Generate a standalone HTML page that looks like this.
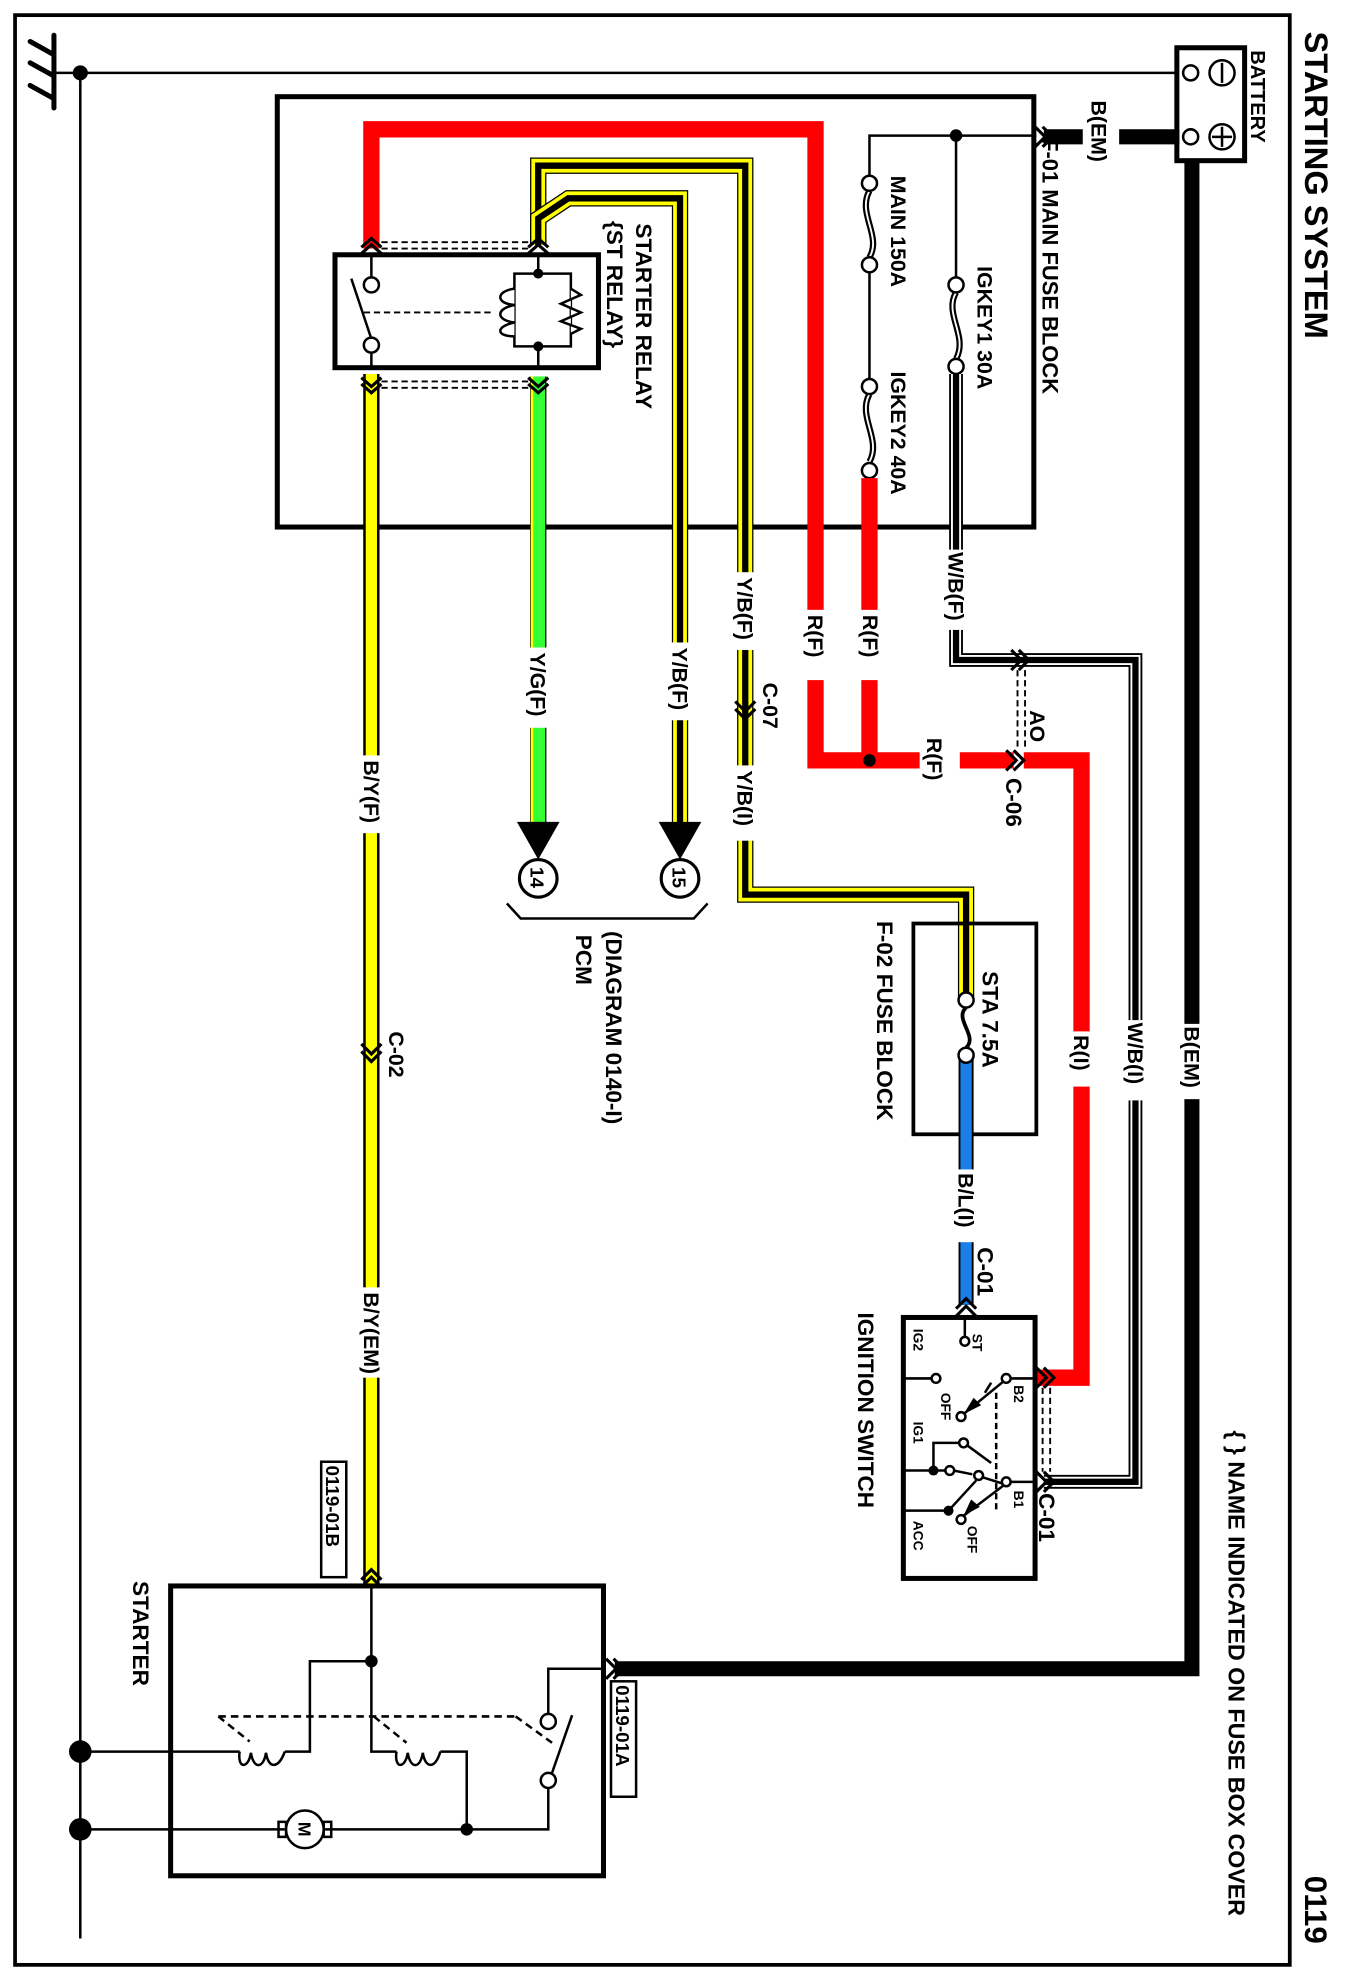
<!DOCTYPE html>
<html><head><meta charset="utf-8"><style>
html,body{margin:0;padding:0;background:#fff}
svg{display:block}
text{font-family:"Liberation Sans",Arial,sans-serif;fill:#000;font-weight:bold}
</style></head><body>
<svg width="1350" height="1980" viewBox="0 0 1076 1578" xmlns="http://www.w3.org/2000/svg">
<rect x="0" y="0" width="1076" height="1578" fill="#fff"/>
<rect x="12" y="12" width="1016" height="1554" fill="none" stroke="#000" stroke-width="3"/>
<line x1="43" y1="28" x2="43" y2="86" stroke="#000" stroke-width="4" stroke-linecap="round"/>
<path d="M24,33 L42,43 M24,50 L42,60 M24,68 L42,78" stroke="#000" stroke-width="4" stroke-linecap="round"/>
<line x1="43" y1="58" x2="940" y2="58" stroke="#000" stroke-width="2"/>
<circle cx="64" cy="58" r="6"/>
<line x1="64" y1="58" x2="64" y2="1545" stroke="#000" stroke-width="2"/>
<rect x="938" y="38" width="54" height="90" fill="#fff" stroke="#000" stroke-width="4"/>
<circle cx="949" cy="58" r="6" fill="#fff" stroke="#000" stroke-width="2"/>
<circle cx="949" cy="109" r="6" fill="#fff" stroke="#000" stroke-width="2"/>
<circle cx="974" cy="58" r="10" fill="#fff" stroke="#000" stroke-width="2"/>
<line x1="974" y1="50" x2="974" y2="66" stroke="#000" stroke-width="2"/>
<circle cx="974" cy="109" r="10" fill="#fff" stroke="#000" stroke-width="2"/>
<path d="M966,109 H982 M974,101 V117" stroke="#000" stroke-width="2"/>
<text transform="translate(997,40) rotate(90)" font-size="16">BATTERY</text>
<line x1="832" y1="109" x2="863" y2="109" stroke="#000" stroke-width="12"/>
<line x1="892" y1="109" x2="940" y2="109" stroke="#000" stroke-width="12"/>
<text transform="translate(870,80) rotate(90)" font-size="17">B(EM)</text>
<path d="M825,101 L833,109 L825,117 M831,101 L839,109 L831,117" fill="none" stroke="#000" stroke-width="2.5"/>
<path d="M950,128 V1330 H490" fill="none" stroke="#000" stroke-width="12"/>
<rect x="940" y="816" width="20" height="60" fill="#fff"/>
<text transform="translate(944,818) rotate(90)" font-size="17">B(EM)</text>
<path d="M483,1322 L491,1330 L483,1338 M489,1322 L497,1330 L489,1338" fill="none" stroke="#000" stroke-width="2.5"/>
<rect x="221" y="77" width="603" height="343" fill="none" stroke="#000" stroke-width="4"/>
<text transform="translate(831,110) rotate(90)" font-size="17.5">F-01  MAIN FUSE BLOCK</text>
<path d="M693,146 V108 H826" fill="none" stroke="#000" stroke-width="2"/>
<circle cx="762" cy="108" r="5"/>
<line x1="762" y1="108" x2="762" y2="227" stroke="#000" stroke-width="2"/>
<line x1="693" y1="211" x2="693" y2="308" stroke="#000" stroke-width="2"/>
<g fill="none" stroke="#000">
<path d="M693,152 C683,170 703,188 693,205" stroke-width="5"/><path d="M693,152 C683,170 703,188 693,205" stroke="#fff" stroke-width="1.5"/>
<path d="M693,314 C683,332 703,350 693,368" stroke-width="5"/><path d="M693,314 C683,332 703,350 693,368" stroke="#fff" stroke-width="1.5"/>
<path d="M762,233 C752,250 772,268 762,286" stroke-width="5"/><path d="M762,233 C752,250 772,268 762,286" stroke="#fff" stroke-width="1.5"/>
</g>
<g fill="#fff" stroke="#000" stroke-width="2">
<circle cx="693" cy="146" r="6"/><circle cx="693" cy="211" r="6"/>
<circle cx="693" cy="308" r="6"/><circle cx="693" cy="375" r="6"/>
<circle cx="762" cy="227" r="6"/><circle cx="762" cy="292" r="6"/>
</g>
<text transform="translate(710,140) rotate(90)" font-size="17">MAIN 150A</text>
<text transform="translate(779,212) rotate(90)" font-size="17">IGKEY1 30A</text>
<text transform="translate(710,296) rotate(90)" font-size="17">IGKEY2 40A</text>
<g fill="none">
<path d="M762,298 V526 H905 V1181 H832" stroke="#000" stroke-width="11"/>
<path d="M762,298 V526 H905 V1181 H832" stroke="#fff" stroke-width="8"/>
<path d="M762,298 V526 H905 V1181 H832" stroke="#000" stroke-width="5"/>
</g>
<rect x="752" y="438" width="20" height="64" fill="#fff"/>
<text transform="translate(756,440) rotate(90)" font-size="17">W/B(F)</text>
<rect x="895" y="813" width="20" height="64" fill="#fff"/>
<text transform="translate(899,815) rotate(90)" font-size="17">W/B(I)</text>
<g fill="none" stroke="#f00" stroke-width="13">
<path d="M296,198 V103 H650 V606 H808"/>
<path d="M693,381 V606"/>
<path d="M816,606 H862 V1098 H827"/>
</g>
<circle cx="693" cy="606" r="5"/>
<rect x="640" y="486" width="60" height="56" fill="#fff"/>
<text transform="translate(644,490) rotate(90)" font-size="17">R(F)</text>
<text transform="translate(688,490) rotate(90)" font-size="17">R(F)</text>
<rect x="733" y="586" width="32" height="40" fill="#fff"/>
<text transform="translate(739,588) rotate(90)" font-size="17">R(F)</text>
<rect x="852" y="822" width="20" height="44" fill="#fff"/>
<text transform="translate(856,825) rotate(90)" font-size="17">R(I)</text>
<path d="M806,518 L814,526 L806,534 M812,518 L820,526 L812,534" fill="none" stroke="#000" stroke-width="2.5"/>
<path d="M802,598 L810,606 L802,614 M808,598 L816,606 L808,614" fill="none" stroke="#000" stroke-width="2.5"/>
<path d="M811,534 V598 M817,534 V598" stroke="#000" stroke-width="1.5" stroke-dasharray="5,3"/>
<text transform="translate(821,566) rotate(90)" font-size="17">AO</text>
<text transform="translate(802,620) rotate(90)" font-size="18">C-06</text>
<g fill="none">
<path d="M429,195 V132 H594 V713 H770 V797" stroke="#000" stroke-width="13"/>
<path d="M429,195 V132 H594 V713 H770 V797" stroke="#ff0" stroke-width="11"/>
<path d="M429,195 V132 H594 V713 H770 V797" stroke="#000" stroke-width="5"/>
<path d="M429,195 V174 L453,158 H542 V656" stroke="#000" stroke-width="13"/>
<path d="M429,195 V174 L453,158 H542 V656" stroke="#ff0" stroke-width="11"/>
<path d="M429,195 V174 L453,158 H542 V656" stroke="#000" stroke-width="5"/>
</g>
<rect x="584" y="456" width="20" height="62" fill="#fff"/>
<text transform="translate(588,460) rotate(90)" font-size="17">Y/B(F)</text>
<rect x="584" y="610" width="20" height="60" fill="#fff"/>
<text transform="translate(588,614) rotate(90)" font-size="17">Y/B(I)</text>
<path d="M586,559 L594,567 L602,559 M586,565 L594,573 L602,565" fill="none" stroke="#000" stroke-width="2.5"/>
<text transform="translate(608,544) rotate(90)" font-size="17">C-07</text>
<rect x="532" y="512" width="20" height="62" fill="#fff"/>
<text transform="translate(536,516) rotate(90)" font-size="17">Y/B(F)</text>
<line x1="429" y1="300" x2="429" y2="656" stroke="#000" stroke-width="13"/>
<line x1="429" y1="300" x2="429" y2="656" stroke="#3f3" stroke-width="11"/>
<line x1="424" y1="300" x2="424" y2="656" stroke="#ff0" stroke-width="2"/>
<rect x="419" y="516" width="20" height="64" fill="#fff"/>
<text transform="translate(423,520) rotate(90)" font-size="17">Y/G(F)</text>
<path d="M412,655 H446 L429,685 Z"/>
<path d="M525,655 H559 L542,685 Z"/>
<circle cx="429" cy="700" r="15" fill="#fff" stroke="#000" stroke-width="2.5"/>
<circle cx="542" cy="700" r="15" fill="#fff" stroke="#000" stroke-width="2.5"/>
<text transform="translate(423,691) rotate(90)" font-size="15">14</text>
<text transform="translate(536,691) rotate(90)" font-size="15">15</text>
<path d="M404,720 L415,732 H553 L564,720" fill="none" stroke="#000" stroke-width="2"/>
<text transform="translate(459,745) rotate(90)" font-size="18">PCM</text>
<text transform="translate(483,742) rotate(90)" font-size="18">(DIAGRAM 0140-I)</text>
<line x1="296" y1="298" x2="296" y2="1262" stroke="#000" stroke-width="13"/>
<line x1="296" y1="298" x2="296" y2="1262" stroke="#ff0" stroke-width="9"/>
<rect x="286" y="602" width="20" height="62" fill="#fff"/>
<text transform="translate(290,606) rotate(90)" font-size="17">B/Y(F)</text>
<rect x="286" y="1026" width="20" height="72" fill="#fff"/>
<text transform="translate(290,1030) rotate(90)" font-size="17">B/Y(EM)</text>
<path d="M288,832 L296,840 L304,832 M288,838 L296,846 L304,838" fill="none" stroke="#000" stroke-width="2.5"/>
<text transform="translate(310,822) rotate(90)" font-size="17">C-02</text>
<rect x="256" y="1165" width="20" height="92" fill="#fff" stroke="#000" stroke-width="2"/>
<text transform="translate(260,1168) rotate(90)" font-size="15">0119-01B</text>
<path d="M288,1259 L296,1251 L304,1259 M288,1265 L296,1257 L304,1265" fill="none" stroke="#000" stroke-width="2.5"/>
<rect x="267" y="203" width="210" height="90" fill="#fff" stroke="#000" stroke-width="4"/>
<path d="M288,197 L296,190 L304,197 M288,202 L296,195 L304,202" fill="none" stroke="#000" stroke-width="2.5"/>
<path d="M421,197 L429,190 L437,197 M421,202 L429,195 L437,202" fill="none" stroke="#000" stroke-width="2.5"/>
<path d="M288,301 L296,308 L304,301 M288,306 L296,313 L304,306" fill="none" stroke="#000" stroke-width="2.5"/>
<path d="M421,301 L429,308 L437,301 M421,306 L429,313 L437,306" fill="none" stroke="#000" stroke-width="2.5"/>
<path d="M304,193 H421 M304,198 H421 M304,304 H421 M304,309 H421" stroke="#000" stroke-width="1.5" stroke-dasharray="5,3"/>
<path d="M296,203 V221 M296,281 V293" stroke="#000" stroke-width="2"/>
<circle cx="296" cy="227" r="6" fill="#fff" stroke="#000" stroke-width="2"/>
<circle cx="296" cy="275" r="6" fill="#fff" stroke="#000" stroke-width="2"/>
<line x1="280" y1="222" x2="296" y2="270" stroke="#000" stroke-width="2"/>
<line x1="290" y1="249" x2="392" y2="249" stroke="#000" stroke-width="1.5" stroke-dasharray="5,3"/>
<path d="M429,203 V218 M429,276 V293" stroke="#000" stroke-width="2"/>
<path d="M410,218 H455 V276 H410 Z" fill="none" stroke="#000" stroke-width="2"/>
<path d="M410,230 C395,232 395,242 410,243 C395,246 395,255 410,257 C395,260 395,268 410,268" fill="#fff" stroke="#000" stroke-width="2"/>
<path d="M455,230 L463,235 L447,242 L463,249 L447,256 L463,262 L455,266" fill="#fff" stroke="#000" stroke-width="2"/>
<circle cx="429" cy="218" r="4"/><circle cx="429" cy="276" r="4"/>
<text transform="translate(507,178) rotate(90)" font-size="18">STARTER RELAY</text>
<text transform="translate(484,176) rotate(90)" font-size="18">{ST RELAY}</text>
<rect x="728" y="736" width="98" height="168" fill="none" stroke="#000" stroke-width="3"/>
<line x1="770" y1="841" x2="770" y2="1040" stroke="#000" stroke-width="12"/>
<line x1="770" y1="841" x2="770" y2="1040" stroke="#1a7fe8" stroke-width="9"/>
<rect x="760" y="932" width="20" height="58" fill="#fff"/>
<text transform="translate(764,935) rotate(90)" font-size="17">B/L(I)</text>
<text transform="translate(779,994) rotate(90)" font-size="18">C-01</text>
<path d="M770,803 C760,812 780,826 770,835" fill="none" stroke="#000" stroke-width="3"/>
<circle cx="770" cy="797" r="6" fill="#fff" stroke="#000" stroke-width="2"/>
<circle cx="770" cy="841" r="6" fill="#fff" stroke="#000" stroke-width="2"/>
<text transform="translate(783,774) rotate(90)" font-size="18">STA 7.5A</text>
<text transform="translate(699,734) rotate(90)" font-size="18">F-02  FUSE BLOCK</text>
<path d="M762,1043 L770,1035 L778,1043 M762,1049 L770,1041 L778,1049" fill="none" stroke="#000" stroke-width="2.5"/>
<rect x="720" y="1050" width="105" height="208" fill="#fff" stroke="#000" stroke-width="4"/>
<path d="M826,1090 L834,1098 L826,1106 M832,1090 L840,1098 L832,1106" fill="none" stroke="#000" stroke-width="2.5"/>
<path d="M826,1173 L834,1181 L826,1189 M832,1173 L840,1181 L832,1189" fill="none" stroke="#000" stroke-width="2.5"/>
<path d="M831,1106 V1173 M837,1106 V1173" stroke="#000" stroke-width="1.5" stroke-dasharray="5,3"/>
<text transform="translate(828,1190) rotate(90)" font-size="18">C-01</text>
<g stroke="#000" stroke-width="2" fill="none">
<path d="M769,1050 V1066"/>
<path d="M720,1098.6 H743 M805,1098.6 H825"/>
<path d="M801,1100 L768,1127"/>
<path d="M790,1102 L785,1110"/>
<path d="M720,1172 H756"/>
<path d="M744,1172 V1150 H765"/>
<path d="M771,1152 L790,1166"/>
<path d="M760,1172 L775,1175"/>
<path d="M805,1181 H825"/>
<path d="M801,1183 L782,1177"/>
<path d="M720,1204 H756"/>
<path d="M756,1204 L778,1180"/>
<path d="M801,1183 L768,1208"/>
<path d="M794,1110 V1204" stroke-dasharray="5,3"/>
</g>
<path d="M768,1127 L776,1114 L782,1120 Z"/>
<path d="M768,1208 L774,1195 L781,1201 Z"/>
<g fill="#fff" stroke="#000" stroke-width="2">
<circle cx="769" cy="1069" r="3.5"/><circle cx="746" cy="1098.6" r="3.5"/>
<circle cx="802" cy="1098.6" r="3.5"/><circle cx="766" cy="1129" r="3.5"/>
<circle cx="768" cy="1150" r="3.5"/><circle cx="757" cy="1172" r="3.5"/>
<circle cx="780" cy="1176" r="3.5"/><circle cx="802" cy="1181" r="3.5"/>
<circle cx="766" cy="1211" r="3.5"/>
</g>
<circle cx="744" cy="1172" r="4"/><circle cx="756" cy="1204" r="4"/>
<g font-size="11">
<text transform="translate(775,1063) rotate(90)">ST</text>
<text transform="translate(728,1059) rotate(90)">IG2</text>
<text transform="translate(808,1104) rotate(90)">B2</text>
<text transform="translate(750,1110) rotate(90)">OFF</text>
<text transform="translate(728,1133) rotate(90)">IG1</text>
<text transform="translate(808,1188) rotate(90)">B1</text>
<text transform="translate(728,1212) rotate(90)">ACC</text>
<text transform="translate(771,1216) rotate(90)">OFF</text>
</g>
<text transform="translate(684,1046) rotate(90)" font-size="18">IGNITION SWITCH</text>
<text transform="translate(979,1140) rotate(90)" font-size="18.5">{ } NAME INDICATED ON FUSE BOX COVER</text>
<rect x="136" y="1264" width="345" height="231" fill="none" stroke="#000" stroke-width="4"/>
<rect x="487" y="1340" width="20" height="92" fill="#fff" stroke="#000" stroke-width="2"/>
<text transform="translate(491,1343) rotate(90)" font-size="15">0119-01A</text>
<text transform="translate(106,1260) rotate(90)" font-size="18">STARTER</text>
<g stroke="#000" stroke-width="2" fill="none">
<path d="M296,1264 V1396 H316"/>
<path d="M296,1324 H247 V1396 H227"/>
<path d="M64,1396 H191"/>
<path d="M191,1396 C189,1410 198,1410 200,1397 C202,1410 210,1410 212,1397 C214,1410 222,1410 227,1396"/>
<path d="M316,1396 C314,1410 323,1410 325,1397 C327,1410 335,1410 337,1397 C339,1410 347,1410 351,1396"/>
<path d="M351,1396 H372 V1458"/>
<path d="M64,1458 H227 M259,1458 H437 V1425"/>
<path d="M437,1366 V1330 H481"/>
<path d="M440,1413 L456,1367"/>
<path d="M174,1368 H411 M174,1368 L199,1388 M298,1368 L324,1389 M411,1368 L440,1389" stroke-dasharray="6,4"/>
<rect x="222" y="1452" width="6" height="12"/><rect x="258" y="1452" width="6" height="12"/>
</g>
<circle cx="243" cy="1458" r="15" fill="#fff" stroke="#000" stroke-width="2"/>
<text transform="translate(238,1452) rotate(90)" font-size="14">M</text>
<circle cx="437" cy="1372" r="6" fill="#fff" stroke="#000" stroke-width="2"/>
<circle cx="437" cy="1419" r="6" fill="#fff" stroke="#000" stroke-width="2"/>
<circle cx="296" cy="1324" r="5"/><circle cx="372" cy="1458" r="5"/>
<circle cx="64" cy="1396" r="9"/><circle cx="64" cy="1458" r="9"/>
<text transform="translate(1040,25) rotate(90)" font-size="26">STARTING SYSTEM</text>
<text transform="translate(1040,1495) rotate(90)" font-size="25">0119</text>
</svg>
</body></html>
